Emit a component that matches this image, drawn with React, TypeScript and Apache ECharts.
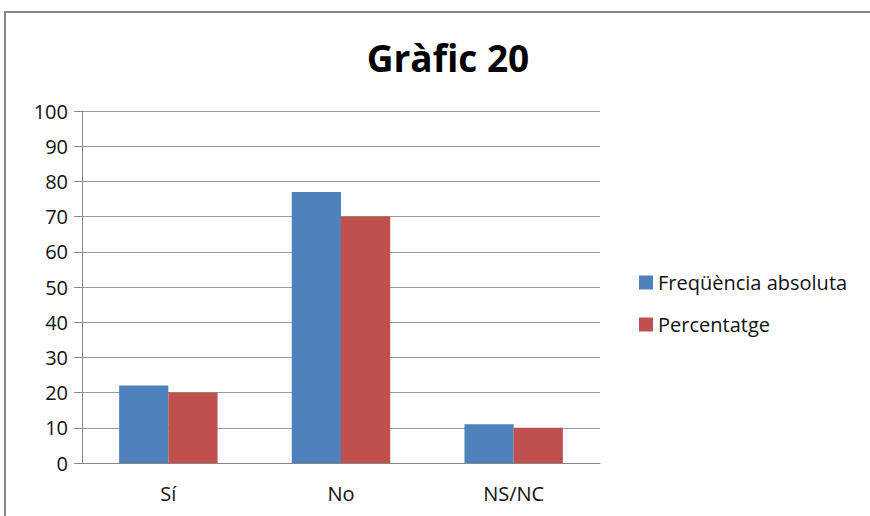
import React, { useEffect, useRef } from "react";
import * as echarts from "echarts";

const categories = ["Sí", "No", "NS/NC"];
const seriesNames = ["Freqüència absoluta", "Percentatge"];
const frequencyValues = [22, 77, 11];
const percentValues = [20, 70, 10];
const yTicks = { min: 0, max: 100, interval: 10 };

const FONT = "'Open Sans', 'Liberation Sans', sans-serif";

export default function App() {
  const ref = useRef<HTMLDivElement>(null);
  useEffect(() => {
    if (!ref.current) return;
    const chart = echarts.init(ref.current, undefined, { renderer: "svg" });
    chart.setOption({
      animation: false,
      backgroundColor: "#ffffff",
      title: {
        text: "Gràfic 20",
        left: 443,
        top: 34,
        textAlign: "center",
        textStyle: { fontFamily: FONT, fontWeight: "bold", fontSize: 37, color: "#000" },
      },
      graphic: [
        {
          type: "rect",
          shape: { x: 5, y: 12, width: 900, height: 600 },
          style: { fill: "none", stroke: "#868686", lineWidth: 2 },
          silent: true,
        },
      ],
      legend: {
        orient: "vertical",
        left: 639,
        top: 272,
        padding: 0,
        itemWidth: 14,
        itemHeight: 14,
        itemGap: 21,
        icon: "rect",
        textStyle: {
          fontFamily: FONT,
          fontSize: 20,
          lineHeight: 21,
          color: "#111",
        },
        data: seriesNames,
      },
      grid: { left: 82, right: 270, top: 111, bottom: 53, containLabel: false },
      xAxis: {
        type: "category",
        data: categories,
        axisLine: { lineStyle: { color: "#868686", width: 1 } },
        axisTick: { show: false },
        axisLabel: { fontFamily: FONT, fontSize: 20, color: "#111", margin: 20 },
      },
      yAxis: {
        type: "value",
        min: yTicks.min,
        max: yTicks.max,
        interval: yTicks.interval,
        axisLine: { show: true, lineStyle: { color: "#868686", width: 1 } },
        axisTick: { show: true, length: 8, lineStyle: { color: "#868686" } },
        axisLabel: { fontFamily: FONT, fontSize: 20, color: "#111", margin: 14 },
        splitLine: { lineStyle: { color: "#9a9a9a", width: 1 } },
      },
      series: [
        {
          name: seriesNames[0],
          type: "bar",
          data: frequencyValues,
          barGap: "0%",
          barCategoryGap: "43%",
          itemStyle: { color: "#4F81BD" },
        },
        {
          name: seriesNames[1],
          type: "bar",
          data: percentValues,
          barGap: "0%",
          barCategoryGap: "43%",
          itemStyle: { color: "#C0504D" },
        },
      ],
    });
    return () => chart.dispose();
  }, []);
  return (
    <div
      ref={ref}
      style={{ position: "absolute", left: 0, top: 0, width: 870, height: 516 }}
    />
  );
}
